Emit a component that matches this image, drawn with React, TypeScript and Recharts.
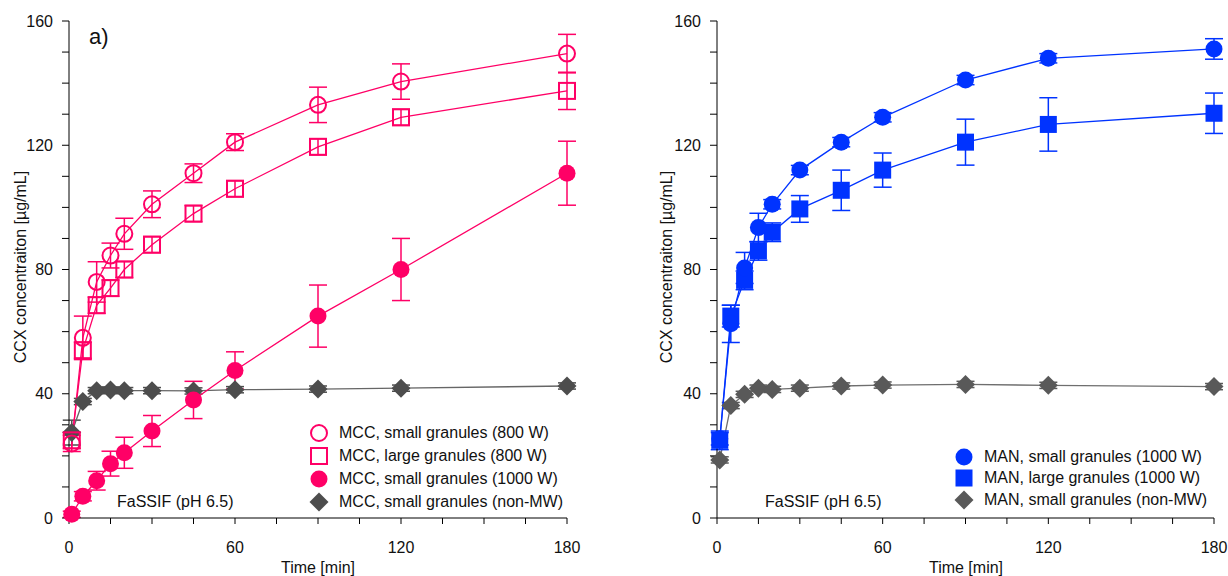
import React from 'react';
import { ComposedChart, Line, XAxis, YAxis, ErrorBar, Legend } from 'recharts';

// sampling times [min]
const times = [1, 5, 10, 15, 20, 30, 45, 60, 90, 120, 180];

const xTicks = [0, 15, 30, 45, 60, 75, 90, 105, 120, 135, 150, 165, 180];
const xLabels = [0, 60, 120, 180];
const yTicks = [0, 10, 20, 30, 40, 50, 60, 70, 80, 90, 100, 110, 120, 130, 140, 150, 160];
const yLabels = [0, 40, 80, 120, 160];

// a) MCC granules
const mccSmall800 = [24, 58, 76, 84.5, 91.5, 101, 111, 121, 133, 140.5, 149.5];
const mccSmall800Err = [2.6, 7, 6.5, 4, 5, 4.3, 3, 2.7, 5.7, 5.7, 6.2];
const mccLarge800 = [25, 54, 68.5, 74, 80, 88, 98, 106, 119.5, 129, 137.5];
const mccLarge800Err = [2.6, 2.6, 2.6, 2.6, 2.6, 2.6, 2.6, 2.6, 2.6, 2.6, 6];
const mccSmall1000 = [1.2, 7, 12, 17.5, 21, 28, 38, 47.5, 65, 80, 111];
const mccSmall1000Err = [1, 1.5, 3, 4, 5, 5, 6, 6, 10, 10, 10.3];
const mccNonMw = [27.5, 37.5, 41, 41.2, 41, 41, 40.9, 41.3, 41.5, 41.8, 42.5];
const mccNonMwErr = [4, 1, 1, 1, 1, 1, 1, 1, 1, 1, 1];

// b) MAN granules
const manSmall1000 = [25.5, 62.5, 80.5, 93.5, 101, 112, 121, 129, 141, 148, 151];
const manSmall1000Err = [2, 6, 5, 4.6, 1.5, 1.5, 1.5, 1.5, 1.5, 1.5, 3.3];
const manLarge1000 = [25, 65, 76.5, 86, 92, 99.5, 105.5, 112, 121, 126.7, 130.3];
const manLarge1000Err = [3, 3.5, 3, 3, 3, 4.3, 6.5, 5.5, 7.4, 8.6, 6.5];
const manNonMw = [18.7, 36.2, 39.8, 41.8, 41.4, 41.8, 42.5, 42.8, 43, 42.7, 42.3];
const manNonMwErr = [1, 1, 1, 1, 1, 1, 1, 1, 1, 1, 1];

const PINK = '#ff0066';
const BLUE = '#0033ff';
const FONT = '"Liberation Sans", Arial, sans-serif';

type Shape = 'openCircle' | 'openSquare' | 'circle' | 'square' | 'diamond';

type Series = {
  name: string;
  values: number[];
  errors: number[];
  color: string;
  lineColor: string;
  shape: Shape;
};

// drawing order = back to front
const mccSeries: Series[] = [
  { name: 'MCC, small granules (non-MW)', values: mccNonMw, errors: mccNonMwErr, color: '#4d4d4d', lineColor: '#666666', shape: 'diamond' },
  { name: 'MCC, small granules (1000 W)', values: mccSmall1000, errors: mccSmall1000Err, color: PINK, lineColor: PINK, shape: 'circle' },
  { name: 'MCC, large granules (800 W)', values: mccLarge800, errors: mccLarge800Err, color: PINK, lineColor: PINK, shape: 'openSquare' },
  { name: 'MCC, small granules (800 W)', values: mccSmall800, errors: mccSmall800Err, color: PINK, lineColor: PINK, shape: 'openCircle' },
];
const mccLegendOrder = [3, 2, 1, 0];

const manSeries: Series[] = [
  { name: 'MAN, small granules (non-MW)', values: manNonMw, errors: manNonMwErr, color: '#595959', lineColor: '#6e6e6e', shape: 'diamond' },
  { name: 'MAN, large granules (1000 W)', values: manLarge1000, errors: manLarge1000Err, color: BLUE, lineColor: BLUE, shape: 'square' },
  { name: 'MAN, small granules (1000 W)', values: manSmall1000, errors: manSmall1000Err, color: BLUE, lineColor: BLUE, shape: 'circle' },
];
const manLegendOrder = [2, 1, 0];

const toRows = (s: Series) => times.map((t, i) => ({ t, v: s.values[i], err: s.errors[i] }));

function MarkerShape({ shape, cx, cy, color }: { shape: Shape; cx: number; cy: number; color: string }) {
  switch (shape) {
    case 'openCircle':
      return <circle cx={cx} cy={cy} r={8} fill="none" stroke={color} strokeWidth={2} />;
    case 'openSquare':
      return <rect x={cx - 8} y={cy - 8} width={16} height={16} fill="none" stroke={color} strokeWidth={2} />;
    case 'circle':
      return <circle cx={cx} cy={cy} r={8.5} fill={color} />;
    case 'square':
      return <rect x={cx - 8.5} y={cy - 8.5} width={17} height={17} fill={color} />;
    default:
      return <polygon points={`${cx},${cy - 9.5} ${cx + 9.5},${cy} ${cx},${cy + 9.5} ${cx - 9.5},${cy}`} fill={color} />;
  }
}

function LegendBox({ items, rowHeight }: { items: Series[]; rowHeight: number }) {
  return (
    <div style={{ fontFamily: FONT, fontSize: 16, color: '#111', whiteSpace: 'nowrap' }}>
      {items.map((s) => (
        <div key={s.name} style={{ display: 'flex', alignItems: 'center', height: rowHeight }}>
          <svg width={20} height={20} style={{ overflow: 'visible' }}>
            <MarkerShape shape={s.shape} cx={10} cy={10} color={s.color} />
          </svg>
          <span style={{ marginLeft: 10, lineHeight: '16px' }}>{s.name}</span>
        </div>
      ))}
    </div>
  );
}

type PanelProps = {
  series: Series[];
  legendOrder: number[];
  left: number;
  marginLeft: number;
  marginRight: number;
  legendLeft: number;
  legendTop: number;
  rowHeight: number;
};

function Panel({ series, legendOrder, left, marginLeft, marginRight, legendLeft, legendTop, rowHeight }: PanelProps) {
  const tickStyle = { fill: '#111', fontSize: 16, fontFamily: FONT };
  return (
    <div style={{ position: 'absolute', left, top: 0 }}>
      <ComposedChart width={614} height={576} margin={{ top: 21, right: marginRight, bottom: 8, left: marginLeft }}>
        <XAxis
          type="number"
          dataKey="t"
          domain={[0, 180]}
          ticks={xTicks}
          interval={0}
          tickFormatter={(v) => (xLabels.includes(v) ? String(v) : '')}
          tick={tickStyle}
          tickSize={6}
          tickMargin={18}
          height={50}
          axisLine={{ stroke: '#000', strokeWidth: 1 }}
          tickLine={{ stroke: '#000' }}
        />
        <YAxis
          type="number"
          domain={[0, 160]}
          ticks={yTicks}
          interval={0}
          tickFormatter={(v) => (yLabels.includes(v) ? String(v) : '')}
          tick={tickStyle}
          tickSize={7}
          tickMargin={9}
          width={60}
          axisLine={{ stroke: '#000', strokeWidth: 1 }}
          tickLine={{ stroke: '#000' }}
        />
        {series.map((s) => (
          <Line
            key={s.name}
            data={toRows(s)}
            dataKey="v"
            name={s.name}
            type="linear"
            stroke={s.lineColor}
            strokeWidth={1.3}
            activeDot={false}
            isAnimationActive={false}
            dot={(p: any) => <MarkerShape key={`${s.name}-${p.index}`} shape={s.shape} cx={p.cx} cy={p.cy} color={s.color} />}
          >
            <ErrorBar dataKey="err" direction="y" width={9} stroke={s.color} strokeWidth={1.5} isAnimationActive={false} />
          </Line>
        ))}
        <Legend
          layout="vertical"
          align="center"
          verticalAlign="middle"
          wrapperStyle={{ left: legendLeft, top: legendTop, width: 'auto', height: 'auto' }}
          content={() => <LegendBox items={legendOrder.map((i) => series[i])} rowHeight={rowHeight} />}
        />
      </ComposedChart>
    </div>
  );
}

const textStyle: React.CSSProperties = {
  position: 'absolute',
  fontFamily: FONT,
  fontSize: 16,
  lineHeight: '16px',
  color: '#111',
  whiteSpace: 'nowrap',
};

export default function App() {
  const yTitle = 'CCX concentraiton [µg/mL]';
  return (
    <div style={{ position: 'absolute', left: 0, top: 0, width: 1228, height: 576, background: '#fff', overflow: 'hidden' }}>
      <Panel series={mccSeries} legendOrder={mccLegendOrder} left={0} marginLeft={9} marginRight={47} legendLeft={309} legendTop={421} rowHeight={23} />
      <Panel series={manSeries} legendOrder={manLegendOrder} left={614} marginLeft={43} marginRight={14} legendLeft={340} legendTop={446} rowHeight={21.5} />

      <div style={{ ...textStyle, left: 89, top: 26, fontSize: 22, lineHeight: '22px' }}>a)</div>

      <div style={{ ...textStyle, left: 117, top: 494 }}>FaSSIF (pH 6.5)</div>
      <div style={{ ...textStyle, left: 765, top: 494 }}>FaSSIF (pH 6.5)</div>

      <div style={{ ...textStyle, left: 318, top: 560, transform: 'translateX(-50%)' }}>Time [min]</div>
      <div style={{ ...textStyle, left: 966, top: 560, transform: 'translateX(-50%)' }}>Time [min]</div>

      <div style={{ ...textStyle, left: 21, top: 267, transform: 'translate(-50%, -50%) rotate(-90deg)' }}>{yTitle}</div>
      <div style={{ ...textStyle, left: 667, top: 267, transform: 'translate(-50%, -50%) rotate(-90deg)' }}>{yTitle}</div>
    </div>
  );
}
